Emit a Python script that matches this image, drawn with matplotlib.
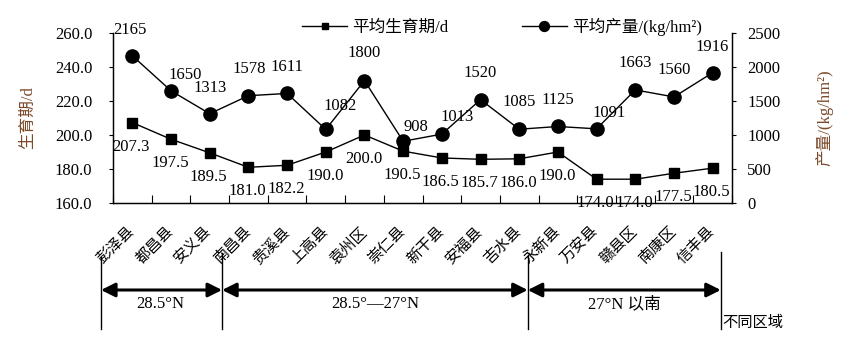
import matplotlib
matplotlib.use('Agg')
import matplotlib.pyplot as plt
import numpy as np

plt.rcParams['font.family'] = ['Liberation Serif', 'Noto Sans CJK SC']
plt.rcParams['axes.unicode_minus'] = False

# 数据
counties = ["彭泽县", "都昌县", "安义县", "南昌县", "贵溪县", "上高县", "袁州区", "崇仁县",
            "新干县", "安福县", "吉水县", "永新县", "万安县", "赣县区", "南康区", "信丰县"]
growth_days = [207.3, 197.5, 189.5, 181.0, 182.2, 190.0, 200.0, 190.5,
               186.5, 185.7, 186.0, 190.0, 174.0, 174.0, 177.5, 180.5]
yield_kg = [2165, 1650, 1313, 1578, 1611, 1082, 1800, 908,
            1013, 1520, 1085, 1125, 1091, 1663, 1560, 1916]
regions = ["28.5°N", "28.5°—27°N", "27°N 以南"]

# 产量标注的偏移(像素)
yield_dx = [-2, 14, 0, 1, 0, 14, 0, 13, 15, 0, 0, 0, 13, 0, 0, 0]
yield_dy = [26, 16, 26, 27, 26, 23, 28, 14, 17, 27, 27, 26, 16, 27, 27, 26]

brown = '#7B4A2A'
fs = 12

fig = plt.figure(figsize=(8.58, 3.57), dpi=100)
ax = fig.add_axes([113 / 858, 1 - 203 / 357, 619 / 858, 170 / 357])
ax2 = ax.twinx()

x = np.arange(len(counties)) + 0.5
l1, = ax.plot(x, growth_days, color='k', lw=1, marker='s', ms=6.5, label='平均生育期/d')
l2, = ax2.plot(x, yield_kg, color='k', lw=1, marker='o', ms=9.5, label='平均产量/(kg/hm²)')

px = 0.72
for xi, v in zip(x, growth_days):
    ax.annotate(f"{v:.1f}", (xi, v), xytext=(-1 * px, -24 * px), textcoords='offset points',
                ha='center', va='center', fontsize=fs)
for xi, v, dx, dy in zip(x, yield_kg, yield_dx, yield_dy):
    ax2.annotate(f"{v}", (xi, v), xytext=(dx * px, dy * px), textcoords='offset points',
                 ha='center', va='center', fontsize=fs)

ax.set_xlim(0, 16)
ax.set_ylim(160, 260)
ax2.set_ylim(0, 2500)
ax.set_yticks(np.arange(160, 261, 20))
ax.set_yticklabels([f"{v:.1f}" for v in np.arange(160, 261, 20)], fontsize=fs)
ax2.set_yticks(np.arange(0, 2501, 500))
ax2.set_yticklabels([str(v) for v in range(0, 2501, 500)], fontsize=fs)

ax.set_xticks(np.arange(0, 17))
ax.set_xticklabels([])
ax.set_xticks(x, minor=True)
ax.set_xticklabels(counties, minor=True, rotation=45, ha='right', va='center',
                   rotation_mode='anchor', fontsize=11)
ax.tick_params(axis='x', which='major', direction='in', length=6, width=0.8)
ax.tick_params(axis='x', which='minor', length=0, pad=19)
ax.tick_params(axis='y', direction='out', length=3, pad=12, width=0.8)
ax2.tick_params(axis='y', direction='out', length=3, pad=8, width=0.8)

for a in (ax, ax2):
    a.spines['top'].set_visible(False)
    for s in a.spines.values():
        s.set_linewidth(0.9)

ax.set_ylabel('生育期/d', fontsize=fs, color=brown)
ax.yaxis.set_label_coords(-0.125, 0.5)
ax2.set_ylabel('产量/(kg/hm²)', fontsize=fs, color=brown, rotation=90)
ax2.yaxis.set_label_coords(1.135, 0.5)

fig.legend([l1, l2], [l1.get_label(), l2.get_label()], loc='center', ncol=2,
           bbox_to_anchor=(0.585, 0.925), frameon=False, fontsize=fs,
           handlelength=2.7, columnspacing=4.4, markerscale=0.75, handletextpad=0.3)

# 区域分隔
tr = ax.get_xaxis_transform()
def ya(ypx):
    return (203 - ypx) / 170

bounds = [-0.31, 2.82, 10.72, 15.71]
tops = [257, 253, 255, 252]
for b, t in zip(bounds, tops):
    ax.plot([b, b], [ya(t), ya(329)], color='k', lw=1, transform=tr, clip_on=False)
for i in range(3):
    ax.annotate('', xy=(bounds[i + 1], ya(290)), xytext=(bounds[i], ya(290)),
                xycoords=tr, textcoords=tr,
                arrowprops=dict(arrowstyle='<|-|>', lw=2.2, color='k', mutation_scale=21,
                                shrinkA=0, shrinkB=0))
centers = [1.21, 6.77, 13.23]
for c, r in zip(centers, regions):
    ax.text(c, ya(304), r, transform=tr, ha='center', va='center', fontsize=fs)
ax.text(15.75, ya(323), '不同区域', transform=tr, ha='left', va='center', fontsize=11)

fig.savefig('out.png', dpi=100)
